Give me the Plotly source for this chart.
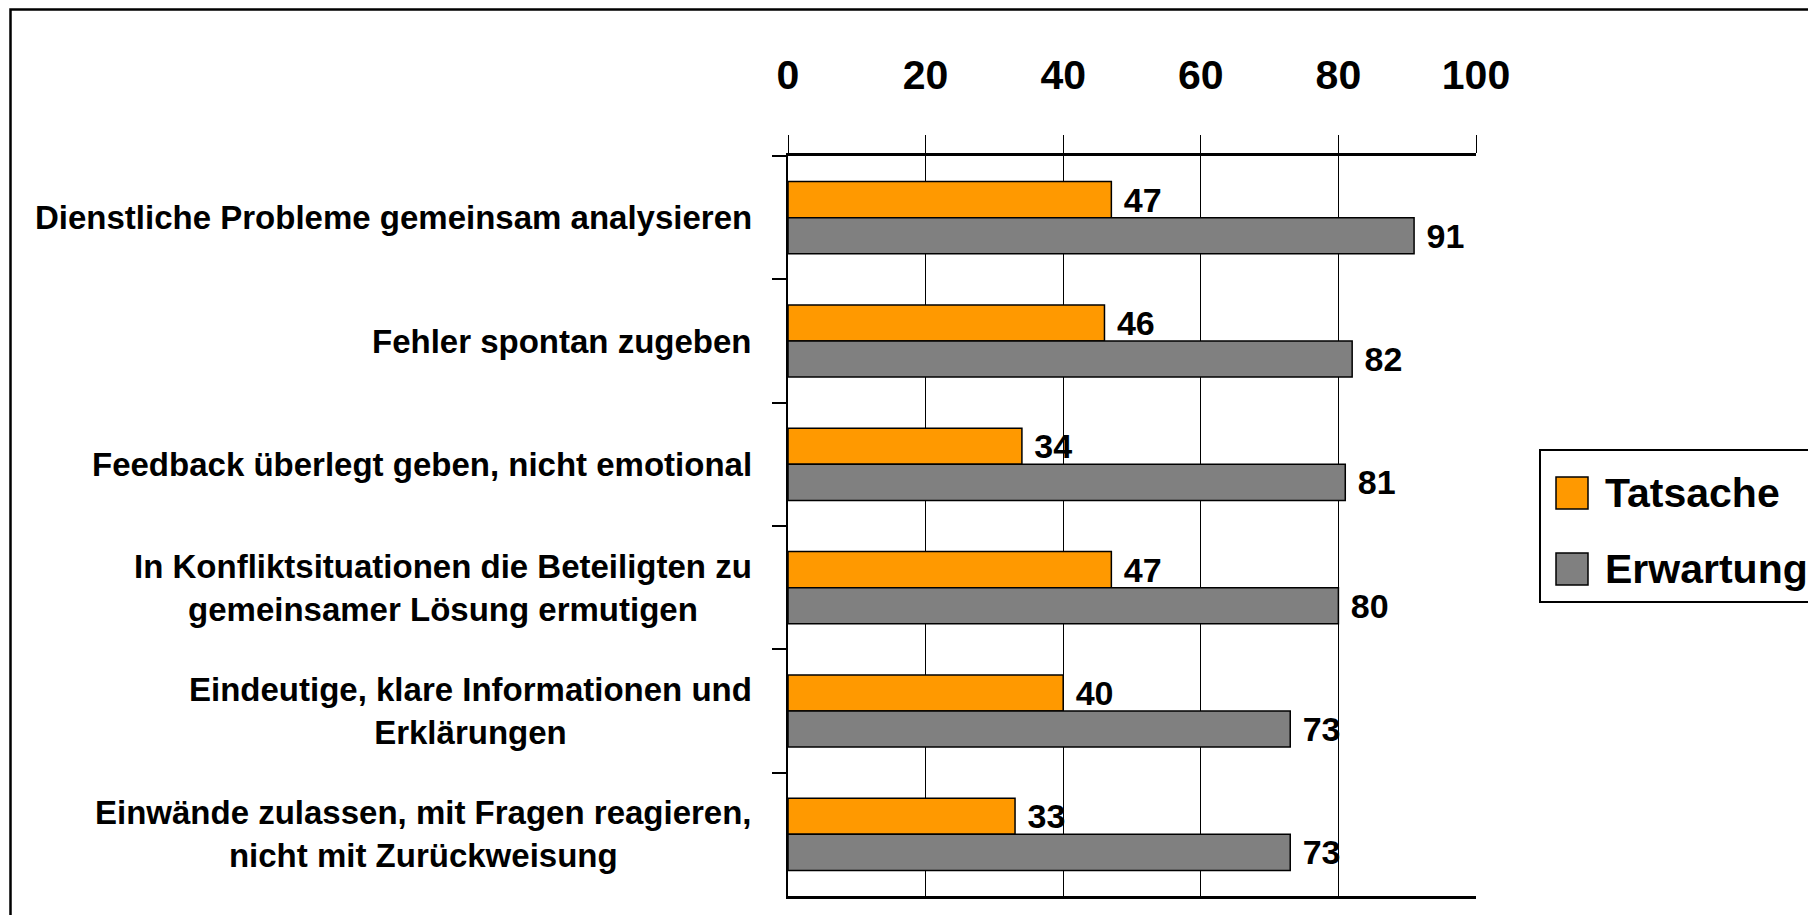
import plotly.graph_objects as go

# ---- data ----
categories = [
    "Dienstliche Probleme gemeinsam analysieren",
    "Fehler spontan zugeben",
    "Feedback überlegt geben, nicht emotional",
    "In Konfliktsituationen die Beteiligten zu<br>gemeinsamer Lösung ermutigen",
    "Eindeutige, klare Informationen und<br>Erklärungen",
    "Einwände zulassen, mit Fragen reagieren,<br>nicht mit Zurückweisung",
]
tatsache = [47, 46, 34, 47, 40, 33]
erwartung = [91, 82, 81, 80, 73, 73]
x_ticks = [0, 20, 40, 60, 80, 100]
series_names = ["Tatsache", "Erwartung"]
series_colors = ["#FF9900", "#808080"]

# ---- layout geometry (page pixels) ----
W, H = 1816, 915
OFF = 8  # page body margin
PL, PR, PT, PB = 788, 1476, 156, 896
FONT = "Liberation Sans, Arial, sans-serif"


def px_x(px):
    return (px - PL) / (PR - PL)


def px_y(py):
    return (PB - py) / (PB - PT)


fig = go.Figure()
for name, vals, col in zip(series_names, [tatsache, erwartung], series_colors):
    fig.add_trace(go.Bar(
        y=categories, x=vals, orientation="h", name=name,
        marker=dict(color=col, line=dict(color="black", width=1.5)),
        text=vals, texttemplate=" %{text}", textposition="outside",
        textfont=dict(family=FONT, size=34, color="black", weight="bold"),
        constraintext="none", cliponaxis=False, showlegend=False,
    ))

fig.update_layout(
    width=W, height=H,
    margin=dict(l=PL - OFF, r=W - (PR - OFF), t=PT - OFF, b=H - (PB - OFF), pad=0),
    paper_bgcolor="white", plot_bgcolor="white",
    barmode="group", bargap=0.415, bargroupgap=0,
    font=dict(family=FONT, color="black"),
)
fig.update_xaxes(
    side="top", range=[0, 100], tickvals=x_ticks,
    tickfont=dict(family=FONT, size=41, color="black", weight="bold"),
    ticks="outside", ticklen=18, tickwidth=1.3, tickcolor="black",
    ticklabelstandoff=30,
    showgrid=True, gridcolor="black", gridwidth=1.3,
    showline=True, linecolor="black", linewidth=3, mirror=True,
    zeroline=False, fixedrange=True,
)
fig.update_yaxes(
    type="category", categoryorder="array", categoryarray=categories,
    range=[len(categories) - 0.5, -0.5],
    showticklabels=False, ticks="outside", tickson="boundaries",
    ticklen=14, tickwidth=1.5, tickcolor="black",
    showline=True, linecolor="black", linewidth=1.5,
    showgrid=False, zeroline=False, fixedrange=True,
)

# category labels (centered lines, right-aligned block)
for c in categories:
    fig.add_annotation(
        x=px_x(754), xref="paper", y=c, yref="y",
        text=c, showarrow=False, xanchor="right", yanchor="middle", align="center",
        font=dict(family=FONT, size=33, color="black", weight="bold"),
    )

# outer frame
fig.add_shape(type="rect", xref="paper", yref="paper",
              x0=px_x(10.5), x1=px_x(1840), y0=px_y(940), y1=px_y(9.5),
              line=dict(color="black", width=2.5), fillcolor="rgba(0,0,0,0)", layer="below")

# legend box
fig.add_shape(type="rect", xref="paper", yref="paper",
              x0=px_x(1540), x1=px_x(1840), y0=px_y(602), y1=px_y(450),
              line=dict(color="black", width=2), fillcolor="white")
for i, (name, col) in enumerate(zip(series_names, series_colors)):
    cy = 493 + i * 76
    fig.add_shape(type="rect", xref="paper", yref="paper",
                  x0=px_x(1556), x1=px_x(1588), y0=px_y(cy + 16), y1=px_y(cy - 16),
                  line=dict(color="black", width=1.5), fillcolor=col)
    fig.add_annotation(x=px_x(1603), xref="paper", y=px_y(cy), yref="paper",
                       text=name, showarrow=False, xanchor="left", yanchor="middle",
                       font=dict(family=FONT, size=41, color="black", weight="bold"))

fig.write_html("out.html")
